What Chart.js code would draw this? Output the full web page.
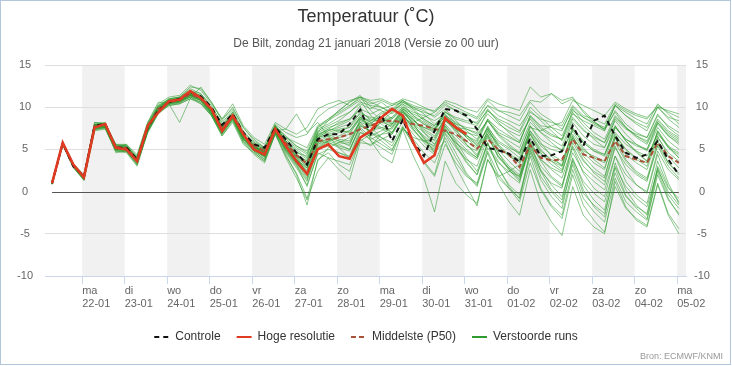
<!DOCTYPE html>
<html>
<head>
<meta charset="utf-8">
<script src="https://cdn.jsdelivr.net/npm/chart.js@4.4.1/dist/chart.umd.min.js"></script>
<style>
  html, body { margin: 0; padding: 0; background: #fff; }
  #wrap { width: 732px; height: 366px; }
</style>
</head>
<body>
<div id="wrap"><canvas id="plume" width="732" height="366"></canvas></div>
<script>
// x axis: hours after 22-01 00:00, one run value every 6 hours
const firstHour = -17;
const stepHours = 6;
const xMin = -21;
const xMax = 341;

const dayNames = ['ma', 'di', 'wo', 'do', 'vr', 'za', 'zo', 'ma', 'di', 'wo', 'do', 'vr', 'za', 'zo', 'ma'];
const dayDates = ['22-01', '23-01', '24-01', '25-01', '26-01', '27-01', '28-01', '29-01', '30-01', '31-01', '01-02', '02-02', '03-02', '04-02', '05-02'];
const yTicks = [-10, -5, 0, 5, 10, 15];

const controle = [
  1.0, 5.7, 3.0, 1.8, 7.8, 8.0, 5.2, 5.2, 3.8, 7.6, 9.6, 10.6,
  11.0, 11.8, 11.3, 10.0, 7.9, 9.2, 7.0, 5.6, 5.2, 7.6, 6.2, 4.6,
  3.2, 6.2, 6.8, 6.8, 8.0, 9.7, 6.8, 9.1, 6.0, 8.5, 5.8, 4.2,
  7.2, 9.8, 9.6, 9.0, 7.4, 5.2, 4.9, 4.5, 3.5, 6.3, 4.2, 4.3,
  4.8, 7.8, 5.4, 8.4, 9.0, 6.6, 4.6, 4.0, 4.4, 6.0, 3.8, 2.0
];
const hogeResolutie = [
  1.0, 5.8, 3.2, 1.7, 7.6, 8.0, 5.2, 5.0, 3.6, 7.8, 9.4, 10.7,
  10.9, 11.9, 11.1, 9.8, 7.2, 9.0, 6.8, 5.0, 4.4, 7.4, 5.4, 3.6,
  2.1, 5.0, 5.6, 4.2, 3.9, 6.4, 7.2, 8.8, 9.8, 9.0, 5.8, 3.4,
  4.3, 8.7, 7.6, 6.8
];
const middelste = [
  1.0, 5.7, 3.0, 1.8, 7.8, 7.9, 5.3, 5.2, 3.8, 7.6, 9.8, 10.6,
  10.8, 11.6, 11.0, 9.7, 7.6, 9.0, 6.8, 5.5, 4.8, 7.5, 5.8, 4.3,
  3.3, 6.0, 6.2, 6.4, 6.8, 7.4, 7.8, 8.3, 8.4, 8.2, 8.0, 7.8,
  7.4, 7.2, 6.8, 6.0, 5.1, 6.2, 5.0, 4.4, 2.9, 5.5, 4.0, 3.7,
  3.8, 6.2, 4.4, 4.0, 3.6, 6.0, 4.2, 3.8, 3.4, 5.8, 4.2, 3.4
];

// verstoorde runs (a selection of the members)
const run01 = [1.1,5.7,3.2,1.5,8.2,8.1,5.6,5.4,4.0,8.0,10.2,11.0, 11.2,12.2,11.6,10.0,8.2,9.6,7.2,5.8,5.0,7.8,6.4,5.8, 5.2,7.8,8.6,9.4,10.2,11.0,10.4,10.8,10.2,10.6,9.8,9.4, 9.0,10.2,9.6,8.8,8.0,9.6,8.4,7.6,7.0,9.4,8.6,8.2, 7.8,10.2,9.0,8.6,8.0,10.4,9.6,9.0,8.6,10.2,9.4,8.8];
const run02 = [0.9,5.6,2.8,1.4,7.2,7.4,4.8,4.6,3.0,7.0,9.2,10.2, 10.4,11.0,10.6,9.0,6.8,8.6,6.0,4.8,3.8,7.0,4.8,3.0, 1.2,5.0,5.4,4.6,4.2,7.4,6.0,5.2,4.4,7.6,5.6,3.6, 2.0,6.8,4.6,2.2,0.8,4.8,2.0,0.4,-1.2,3.4,0.2,-1.8, -3.2,2.0,-1.6,-3.4,-4.8,0.6,-2.0,-3.2,-4.0,1.0,-2.6,-4.4];
const run03 = [1.0,5.9,3.0,1.8,7.6,7.8,5.0,5.0,3.6,7.4,9.6,10.6, 10.8,11.4,11.2,9.4,7.0,8.8,6.4,5.0,4.4,7.6,6.0,5.0, 4.0,6.6,7.4,8.2,8.6,9.6,8.4,8.8,8.0,9.4,8.6,7.2, 6.4,8.8,7.6,7.0,6.6,8.4,6.8,6.0,5.2,8.2,7.0,6.2, 5.4,8.6,7.2,6.4,5.8,8.8,7.6,6.6,5.8,8.4,7.0,6.2];
const run04 = [1.2,5.8,3.3,1.9,8.0,8.2,5.4,5.6,4.2,8.2,10.4,11.2, 11.4,12.6,12.0,10.4,8.6,9.8,7.6,6.2,5.2,8.0,7.0,6.4, 6.8,8.8,9.8,10.4,10.8,11.2,10.6,10.0,9.4,10.4,9.0,8.2, 7.4,9.6,8.0,6.8,5.4,7.6,5.0,3.6,2.4,6.0,3.8,2.6, 1.6,5.4,3.0,1.8,0.8,5.2,3.2,2.0,1.2,5.6,3.4,2.2];
const run05 = [0.8,5.7,2.9,1.3,7.4,7.6,4.6,4.8,3.2,7.2,9.4,10.4, 10.6,11.2,10.4,9.0,6.6,8.4,5.8,4.4,3.4,6.8,4.4,2.0, -1.6,3.8,4.6,3.2,2.4,6.2,5.4,6.8,7.6,9.4,8.2,8.8, 9.4,10.4,9.6,9.2,8.6,10.2,9.0,8.4,7.8,9.6,8.4,7.2, 6.0,8.8,7.4,6.2,5.2,7.8,6.0,4.8,3.6,7.2,5.4,4.0];
const run06 = [1.0,5.8,3.1,1.6,7.9,7.7,5.3,5.1,3.9,7.6,9.9,10.8, 10.8,11.8,11.4,9.8,7.6,9.2,6.8,5.4,4.8,7.4,5.2,3.8, 2.6,6.0,5.8,5.2,4.8,7.8,7.2,8.2,8.8,10.0,9.4,9.0, 8.4,9.2,7.8,6.4,5.6,7.4,5.4,4.2,3.6,6.8,4.8,3.8, 3.2,7.4,5.8,4.8,4.4,7.6,6.2,5.4,5.0,8.0,6.6,5.8];
const run07 = [1.1,5.6,3.0,1.6,7.4,7.6,5.0,5.2,3.4,7.2,9.4,10.4, 10.6,11.4,10.8,9.2,7.2,8.8,6.2,5.0,4.2,7.2,5.0,3.4, 1.6,5.6,6.4,6.0,5.4,8.6,8.0,7.4,6.8,9.0,7.6,6.4, 5.2,7.4,5.6,3.6,2.0,5.8,2.8,0.8,-0.4,4.6,1.4,-0.6, -2.0,3.6,0.2,-1.8,-3.0,2.8,-0.4,-2.0,-3.2,2.4,-0.8,-2.8];
const run08 = [0.9,5.8,3.2,1.8,7.8,8.0,5.2,5.4,3.8,7.8,10.0,10.8, 11.0,11.6,11.0,9.6,7.6,9.0,6.6,5.2,4.6,7.8,5.8,4.4, 3.6,7.2,7.8,8.4,9.4,10.4,9.8,10.6,9.6,10.8,10.2,9.8, 9.6,10.6,10.0,9.4,8.8,10.8,9.6,9.0,8.4,10.6,9.2,8.4, 7.4,9.8,8.2,7.0,6.2,9.0,7.6,6.6,6.0,8.6,7.2,6.4];
const run09 = [1.0,5.7,3.0,1.7,7.7,7.9,5.1,5.0,3.6,7.6,9.7,10.6, 10.8,11.4,10.8,9.4,7.2,9.0,6.6,5.6,5.0,7.2,7.4,9.2, 7.0,8.2,6.6,5.2,4.0,7.0,6.6,7.2,8.0,9.8,9.2,8.6, 7.8,8.8,7.0,5.6,4.4,6.8,4.6,3.0,2.0,5.4,3.0,1.6, 0.6,4.6,2.4,1.2,0.2,4.2,2.0,0.8,0.0,4.8,2.6,1.4];
const run10 = [1.0,5.8,3.0,1.5,7.5,7.6,4.8,4.9,3.5,7.4,9.6,10.5, 10.7,11.4,11.0,9.4,7.0,8.8,6.2,5.0,4.0,7.0,5.2,3.6, 2.0,5.4,6.0,5.6,5.0,7.6,6.4,5.6,4.8,7.6,6.2,4.6, 3.4,6.4,4.0,2.0,0.6,4.6,1.0,-1.2,-2.8,2.6,-1.4,-3.6, -5.2,0.6,-2.8,-4.2,-5.0,1.2,-1.8,-3.4,-4.2,0.8,-2.8,-5.0];
const run11 = [1.1,5.9,3.3,2.0,8.2,8.0,5.6,5.6,4.4,8.2,10.6,10.4, 8.2,11.0,12.4,10.6,8.4,10.0,7.6,6.0,5.2,7.8,6.6,5.4, 4.6,7.0,8.4,9.2,10.0,10.8,9.0,8.0,7.0,8.8,7.2,6.0, 5.0,7.8,6.2,5.0,4.0,7.4,5.4,4.2,3.4,7.0,5.0,3.6, 2.6,6.4,4.6,3.4,2.6,6.8,5.0,3.8,3.0,7.2,5.2,4.0];
const run12 = [0.9,5.7,3.1,1.7,7.9,7.8,5.2,5.3,3.9,7.7,9.8,10.7, 10.9,11.8,11.4,9.8,7.8,9.4,6.8,5.4,4.6,7.6,5.6,4.0, 3.0,6.4,6.8,6.2,6.0,8.4,8.0,9.2,9.6,10.4,9.6,8.4, 7.6,8.4,7.2,6.0,5.0,7.0,5.8,5.0,4.0,7.2,5.6,5.0, 4.6,7.6,6.0,5.0,4.4,7.0,5.6,4.8,4.2,6.8,5.4,4.6];
const run13 = [1.0,5.6,2.9,1.5,7.6,7.6,5.0,4.8,3.4,7.0,9.4,10.2, 10.4,11.0,10.4,9.0,6.6,8.2,5.6,4.6,3.6,6.8,4.0,1.6, -1.0,2.4,4.0,3.6,3.2,6.0,6.8,8.4,9.4,10.6,10.0,9.6, 8.8,9.8,8.4,7.2,6.2,8.6,7.4,6.6,5.8,9.0,7.6,6.8, 6.2,9.6,8.8,8.2,7.6,10.2,9.4,8.6,8.0,10.4,9.2,8.0];
const run14 = [1.0,5.8,3.2,1.8,7.7,8.0,5.3,5.0,3.6,7.4,9.6,10.6, 10.8,11.6,11.2,9.6,7.2,9.0,6.4,5.0,4.4,7.4,5.4,3.8, 2.4,5.8,6.2,5.8,5.6,8.0,7.0,6.4,5.8,8.4,6.8,5.4, 4.4,7.4,5.8,4.8,4.0,7.2,4.6,2.6,1.2,5.8,3.6,1.8, 0.8,5.2,2.2,0.4,-0.6,4.2,1.2,-0.4,-1.4,3.6,0.6,-1.2];
const run15 = [1.1,5.8,3.1,1.7,7.9,7.9,5.4,5.4,4.0,7.8,10.0,11.0, 11.2,12.0,11.6,10.2,8.0,9.4,7.0,5.8,5.2,7.6,6.2,5.2, 4.4,7.4,8.0,8.8,9.4,10.6,10.2,10.0,9.2,10.2,9.0,8.0, 7.2,9.0,7.8,6.4,5.2,7.6,6.0,5.2,4.6,7.8,6.2,5.4, 5.0,8.2,6.6,5.6,5.2,8.6,7.4,6.8,6.4,9.0,7.8,7.0];
const run16 = [0.9,5.7,3.0,1.6,7.6,7.8,5.0,5.1,3.6,7.5,9.7,10.6, 10.8,11.5,11.0,9.5,7.3,8.9,6.5,5.2,4.5,7.4,5.4,3.8, 2.8,6.2,6.6,6.0,5.8,8.2,7.0,6.0,5.0,7.4,4.2,1.6, -2.4,3.6,1.0,-0.4,-1.4,3.8,1.6,0.4,-0.8,4.8,2.4,1.0, 0.4,5.8,3.6,2.4,1.6,6.4,3.8,2.4,1.6,6.0,3.4,2.0];
const run17 = [1.0,5.8,3.1,1.7,7.8,7.8,5.2,5.2,3.7,7.6,9.8,10.7, 10.9,11.6,11.2,9.8,7.6,9.2,6.8,5.4,4.8,7.6,5.8,4.2, 3.4,6.8,7.2,7.6,8.0,9.2,8.8,8.6,8.2,9.6,8.0,6.4, 4.6,6.0,3.0,0.6,-1.7,3.8,1.8,2.4,3.2,7.6,7.2,7.8, 8.2,10.8,10.2,9.6,9.0,10.6,9.8,9.2,8.8,10.0,9.6,9.2];
const run18 = [1.1,5.9,3.2,1.8,7.9,8.1,5.3,5.3,3.9,7.9,10.1,10.9, 11.1,11.9,11.3,9.8,7.6,9.2,6.8,5.5,4.8,7.8,6.0,4.8, 3.8,7.0,7.6,8.0,8.6,9.8,9.2,9.8,10.2,11.0,10.6,10.0, 9.4,10.8,10.4,9.8,9.4,11.0,10.4,10.0,9.6,12.4,11.2,11.6, 10.4,11.0,9.6,8.4,7.2,9.6,8.0,7.0,6.4,9.2,7.6,6.6];
const run19 = [0.9,5.7,2.9,1.4,7.4,7.6,4.8,4.8,3.2,7.2,9.4,10.4, 10.6,11.2,10.8,9.2,6.8,8.6,6.0,4.8,3.8,7.0,4.6,2.8, 0.8,4.4,5.0,4.6,4.0,7.0,6.2,6.8,7.0,9.0,7.8,6.6, 5.6,7.8,6.0,4.0,2.4,5.8,2.8,0.6,-0.8,4.2,0.4,-1.6, -2.8,2.6,-0.8,-2.4,-3.6,1.6,-1.2,-2.4,-3.4,2.0,-1.0,-2.6];
const run20 = [1.0,5.8,3.1,1.7,7.7,7.9,5.2,5.0,3.6,7.6,9.8,10.6, 10.8,11.6,11.0,9.6,7.4,9.0,6.6,5.2,4.6,7.4,5.6,4.0, 2.2,5.6,6.0,6.6,7.2,8.8,8.4,9.4,9.8,10.8,10.0,9.2, 8.0,9.0,7.4,5.6,4.2,6.8,4.0,2.8,1.6,5.6,3.8,2.8, 2.2,6.4,4.8,4.2,3.6,7.6,6.2,5.6,5.0,8.2,6.8,6.0];
const run21 = [1.0,5.7,3.0,1.6,7.6,7.8,5.0,5.0,3.4,7.4,9.6,10.5, 10.7,11.4,10.8,9.2,7.0,8.8,6.2,4.8,4.2,7.2,4.8,3.2, 0.6,4.6,4.0,2.6,1.4,5.8,5.6,6.2,6.8,8.8,8.0,7.6, 7.0,8.4,7.4,6.6,5.8,8.4,6.8,5.6,4.6,7.8,5.8,4.2, 3.0,6.6,4.2,2.8,1.8,5.8,3.6,2.2,1.4,5.4,3.0,1.6];
const run22 = [1.1,5.8,3.2,1.8,8.0,8.0,5.4,5.4,4.0,7.8,10.0,10.8, 11.0,11.8,11.2,9.8,7.8,9.2,6.8,5.6,5.0,7.8,6.4,5.4, 4.8,7.6,8.6,9.6,10.6,11.4,10.0,9.6,8.6,9.8,8.4,7.4, 6.6,8.6,7.4,6.6,6.0,8.6,7.0,6.4,5.8,9.0,7.8,7.6, 7.2,10.0,8.8,8.0,7.4,9.4,7.6,6.4,5.6,8.2,6.6,5.6];
const run23 = [1.0,5.8,3.1,1.7,7.8,7.9,5.2,5.2,3.8,7.6,9.8,10.7, 10.9,11.6,11.0,9.6,7.4,9.0,6.6,5.3,4.6,7.5,5.6,4.2, 3.2,6.6,7.0,7.4,7.6,9.0,8.2,7.6,7.0,9.2,7.4,6.0, 5.4,8.0,6.6,5.4,4.8,7.8,5.6,4.4,3.8,6.8,4.6,3.2, 2.4,6.2,3.8,2.2,1.2,5.4,2.6,0.8,-0.2,4.4,1.0,-1.4];
const run24 = [0.9,5.7,3.0,1.6,7.7,7.8,5.1,5.1,3.7,7.5,9.7,10.6, 10.8,11.5,11.0,9.5,7.4,9.0,6.6,5.2,4.5,7.4,5.4,3.8, 2.8,6.4,7.2,7.8,8.4,10.2,6.0,4.2,3.4,7.4,6.4,6.0, 6.2,8.6,8.0,7.6,7.4,9.2,8.0,7.2,6.6,8.6,7.0,5.8, 4.8,7.2,5.2,3.8,2.8,6.4,4.4,3.4,2.6,6.6,4.2,2.8];
const run25 = [1.0,5.8,3.0,1.6,7.6,7.7,5.0,5.0,3.6,7.4,9.6,10.5, 10.7,11.5,11.0,9.4,7.2,8.8,6.4,5.0,4.2,7.2,5.2,3.4, 1.8,5.2,6.0,6.4,6.8,8.8,8.2,8.6,8.8,10.0,8.6,7.0, 5.6,7.6,5.4,3.4,2.0,5.6,3.6,2.0,1.0,5.8,2.4,0.2, -1.0,4.0,0.8,-1.0,-2.2,3.4,0.2,-1.6,-2.8,2.8,-0.4,-2.0];
const run26 = [1.0,5.8,3.2,1.8,7.9,8.1,5.4,5.5,4.1,8.0,10.2,10.9, 11.2,12.4,12.2,10.6,8.6,10.4,7.8,6.4,5.6,8.2,7.4,6.8, 7.6,9.8,10.4,10.8,10.2,11.2,9.6,8.4,7.6,9.4,8.0,7.0, 6.0,8.4,7.6,7.4,7.0,9.6,8.6,8.0,7.2,10.0,8.8,7.6, 6.6,9.4,7.8,6.6,5.8,8.4,6.8,5.6,4.8,7.6,6.0,5.0];
const run27 = [0.9,5.6,2.9,1.4,7.3,7.5,4.9,4.7,3.2,7.1,9.3,10.3, 10.5,11.2,10.6,9.1,6.9,8.5,5.9,4.6,3.6,6.9,4.2,2.2, -0.8,3.6,5.2,5.8,6.4,8.2,7.8,8.4,8.0,9.6,8.0,6.2, 4.8,7.2,5.8,4.6,3.8,6.6,4.2,2.8,1.8,5.2,2.6,0.8, -0.6,3.8,1.2,-0.2,-1.2,3.0,0.6,-0.8,-1.8,2.6,0.0,-1.6];
const run28 = [1.0,5.7,3.1,1.7,7.8,7.9,5.2,5.2,3.8,7.7,9.9,10.8, 11.0,11.8,11.2,9.8,7.6,9.2,6.8,5.4,4.8,7.8,6.0,4.6, 4.2,7.6,8.4,9.6,10.6,11.2,10.8,11.0,10.4,10.8,9.8,8.6, 7.8,9.4,8.6,8.2,7.8,9.8,8.2,7.0,6.0,8.8,7.4,6.6, 6.2,9.2,8.4,7.8,7.2,10.2,9.0,8.2,7.6,10.0,8.8,8.4];
const run29 = [1.1,5.8,3.1,1.6,7.6,7.8,5.1,5.0,3.5,7.4,9.6,10.6, 10.8,11.6,11.1,9.6,7.4,9.0,6.4,5.0,4.2,7.2,5.0,3.2, 1.4,5.2,5.8,5.4,5.0,7.8,7.2,7.6,7.4,9.2,7.4,5.8, 4.6,7.0,5.2,3.8,3.0,6.4,4.2,2.6,1.4,5.0,1.8,0.0, -1.4,3.2,-0.2,-1.6,-2.6,2.2,-0.6,-1.8,-2.6,3.0,0.4,-0.8];
const run30 = [1.0,5.7,3.0,1.7,7.7,7.8,5.1,5.1,3.7,7.6,9.8,10.6, 10.9,11.7,11.2,9.7,7.5,9.1,6.7,5.3,4.7,7.6,5.7,4.1, 3.0,6.4,6.8,7.2,7.6,9.4,8.6,8.2,7.8,9.6,8.4,7.6, 7.2,9.4,8.8,8.4,8.2,10.2,9.6,9.4,9.0,10.8,10.6,11.6, 10.8,11.2,9.4,8.2,7.4,10.2,9.0,8.0,7.2,10.0,8.6,7.6];
const run31 = [0.9,5.8,3.0,1.5,7.5,7.7,5.0,4.9,3.5,7.3,9.5,10.5, 10.7,11.3,10.9,9.3,7.1,8.7,6.3,4.9,4.1,7.1,5.0,3.4, 2.2,5.8,6.6,7.0,7.2,8.8,7.6,6.4,5.4,7.8,5.6,3.4, 1.8,5.6,3.4,1.8,1.0,5.2,3.4,2.4,1.8,6.4,4.4,3.6, 3.0,7.4,5.8,4.8,4.2,7.8,6.0,4.6,3.6,7.0,5.2,4.4];
const run32 = [1.0,5.8,3.1,1.7,7.8,7.9,5.2,5.1,3.7,7.6,9.7,10.7, 10.9,11.6,11.1,9.7,7.5,9.1,6.7,5.3,4.7,7.6,5.8,4.4, 3.6,6.8,7.4,7.2,7.0,8.6,7.8,8.4,8.6,9.8,8.8,8.0, 7.4,9.0,8.2,7.4,6.8,8.4,6.6,5.4,4.4,7.2,5.4,4.4, 3.6,6.8,5.0,4.0,3.4,6.6,5.0,4.0,3.4,6.4,4.6,3.6];

const verstoordeRuns = [run01, run02, run03, run04, run05, run06, run07, run08, run09, run10, run11, run12, run13,
  run14, run15, run16, run17, run18, run19, run20, run21, run22, run23, run24, run25, run26, run27, run28,
  run29, run30, run31, run32];

const fontFamily = '"Liberation Sans", Arial, sans-serif';

const toPoints = (values) => values.map((v, i) => ({ x: firstHour + i * stepHours, y: v }));

// order: hoge resolutie on top, then controle, middelste, then the runs
const datasets = [
  { label: 'Controle', data: toPoints(controle), borderColor: '#111', borderWidth: 2, borderDash: [5, 4], order: 0 },
  { label: 'Hoge resolutie', data: toPoints(hogeResolutie), borderColor: '#e03a22', borderWidth: 2.6, order: -1 },
  { label: 'Middelste (P50)', data: toPoints(middelste), borderColor: '#a8523a', borderWidth: 2, borderDash: [5, 3], order: 1 }
];
verstoordeRuns.forEach((run) => {
  datasets.push({ label: 'Verstoorde runs', data: toPoints(run), borderColor: 'rgba(46,155,46,0.55)', borderWidth: 1, order: 2 });
});
datasets.forEach(ds => { ds.pointRadius = 0; ds.tension = 0; ds.fill = false; ds.yAxisID = 'y'; });

// grey bands on every other day, zero line, texts and frame
const decorations = {
  id: 'decorations',
  beforeDraw(chart) {
    const { ctx, chartArea, scales: { x } } = chart;
    ctx.save();
    ctx.fillStyle = '#fff';
    ctx.fillRect(0, 0, chart.width, chart.height);
    ctx.fillStyle = '#f1f1f1';
    for (let d = 0; d < dayDates.length; d += 2) {
      const x0 = x.getPixelForValue(d * 24);
      const x1 = Math.min(x.getPixelForValue(d * 24 + 24), chartArea.right);
      ctx.fillRect(x0, chartArea.top, x1 - x0, chartArea.bottom - chartArea.top);
    }
    ctx.restore();
  },
  beforeDatasetsDraw(chart) {
    const { ctx, scales: { x, y } } = chart;
    const yz = Math.round(y.getPixelForValue(0)) + 0.5;
    ctx.save();
    ctx.strokeStyle = '#555';
    ctx.lineWidth = 1;
    ctx.beginPath();
    ctx.moveTo(x.getPixelForValue(firstHour), yz);
    ctx.lineTo(x.getPixelForValue(firstHour + (controle.length - 1) * stepHours), yz);
    ctx.stroke();
    ctx.restore();
  },
  afterDraw(chart) {
    const { ctx } = chart;
    ctx.save();
    ctx.textAlign = 'center';
    ctx.textBaseline = 'middle';
    ctx.fillStyle = '#333';
    ctx.font = '18px ' + fontFamily;
    ctx.fillText('Temperatuur (˚C)', 366, 17);
    ctx.fillStyle = '#555';
    ctx.font = '12px ' + fontFamily;
    ctx.fillText('De Bilt, zondag 21 januari 2018 (Versie zo 00 uur)', 366, 44);
    ctx.textAlign = 'right';
    ctx.fillStyle = '#999';
    ctx.font = '9px ' + fontFamily;
    ctx.fillText('Bron: ECMWF/KNMI', 723, 357);
    ctx.strokeStyle = '#b4c6da';
    ctx.lineWidth = 1;
    ctx.strokeRect(0.5, 0.5, 730, 364);
    ctx.restore();
  }
};

Chart.defaults.font.family = fontFamily;

new Chart(document.getElementById('plume'), {
  type: 'line',
  data: { datasets },
  plugins: [decorations],
  options: {
    responsive: false,
    animation: false,
    layout: { padding: { top: 65, left: 0, right: 0, bottom: 13 } },
    scales: {
      x: {
        type: 'linear',
        min: xMin,
        max: xMax,
        afterBuildTicks: (scale) => { scale.ticks = dayDates.map((d, i) => ({ value: i * 24 })); },
        afterFit: (scale) => { scale.height = 39; },
        ticks: {
          align: 'start', padding: 1, maxRotation: 0, autoSkip: false, color: '#666',
          font: { size: 11, lineHeight: 1.15 },
          callback: (v, i) => [dayNames[i], dayDates[i]]
        },
        grid: { drawOnChartArea: false, drawTicks: true, tickLength: 8, color: '#ccd6eb' },
        border: { display: true, color: '#ccd6eb' }
      },
      y: {
        position: 'left',
        min: -10,
        max: 15,
        afterBuildTicks: (scale) => { scale.ticks = yTicks.map(v => ({ value: v })); },
        afterFit: (scale) => { scale.width = 45; },
        ticks: { padding: 12, crossAlign: 'center', color: '#666', font: { size: 11 } },
        grid: { drawTicks: false, color: (c) => c.tick && c.tick.value === 0 ? 'rgba(0,0,0,0)' : '#dedede' },
        border: { display: false }
      },
      yRight: {
        position: 'right',
        min: -10,
        max: 15,
        afterBuildTicks: (scale) => { scale.ticks = yTicks.map(v => ({ value: v })); },
        afterFit: (scale) => { scale.width = 46; },
        ticks: { padding: 8, crossAlign: 'center', color: '#666', font: { size: 11 } },
        grid: { drawOnChartArea: false, drawTicks: false },
        border: { display: false }
      }
    },
    plugins: {
      title: { display: false },
      tooltip: { enabled: false },
      legend: {
        position: 'bottom',
        align: 'center',
        labels: {
          usePointStyle: true,
          pointStyle: 'line',
          pointStyleWidth: 15,
          padding: 16,
          color: '#333',
          font: { size: 12 },
          generateLabels: (chart) => {
            const items = Chart.defaults.plugins.legend.labels.generateLabels(chart);
            items.forEach(it => {
              const ds = chart.data.datasets[it.datasetIndex];
              it.strokeStyle = ds.borderColor;
              it.lineWidth = 2;
              it.lineDash = ds.borderDash || [];
              if (it.datasetIndex >= 3) { it.strokeStyle = '#2f9a2f'; }
            });
            return items;
          },
          sort: (a, b) => a.datasetIndex - b.datasetIndex,
          filter: (item) => item.datasetIndex <= 3
        }
      }
    }
  }
});
</script>
</body>
</html>
